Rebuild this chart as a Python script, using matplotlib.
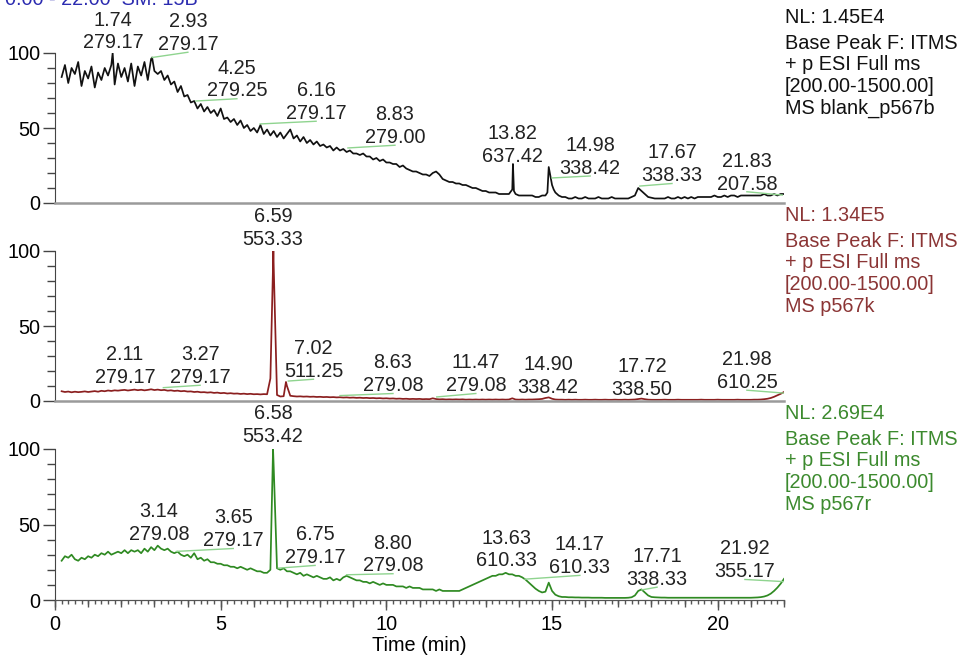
import numpy as np
import matplotlib.pyplot as plt
from matplotlib.ticker import MultipleLocator, FixedLocator, NullFormatter

plt.rcParams['font.family'] = ['Liberation Sans', 'DejaVu Sans']
FS = 14.3

# sampling times of the traces (min)
t_grid = np.round(np.arange(0.2, 22.0001, 0.1), 1)

blank_y = [
    84, 92, 80, 90, 86, 94, 78, 88, 83, 91,
    77, 87, 82, 90, 85, 92, 79, 93, 84, 90,
    81, 93, 78, 91, 85, 94, 82, 96, 88, 86,
    88, 82, 85, 79, 81, 74, 78, 71, 72, 67,
    68, 63, 66, 61, 64, 60, 62, 58, 63, 56,
    57, 54, 56, 52, 55, 50, 52, 48, 50, 47,
    52, 46, 49, 45, 48, 44, 47, 43, 46, 49,
    43, 45, 41, 44, 40, 42, 39, 41, 38, 39,
    37, 38, 35, 37, 35, 36, 34, 35, 33, 33,
    32, 33, 31, 31, 29, 30, 28, 29, 27, 27,
    26, 26, 24, 25, 23, 22, 21, 21, 20, 19,
    19, 18, 20, 21, 19, 16, 15, 14, 14, 13,
    13, 12, 12, 11, 10, 10, 9, 8, 8, 7,
    7, 7, 6, 6, 6, 6, 9, 6, 5, 5,
    5, 5, 5, 4, 4, 5, 5, 24, 12, 7,
    5, 4, 4, 3, 3, 4, 3, 3, 4, 3,
    3, 3, 4, 3, 3, 3, 4, 3, 3, 3,
    3, 3, 4, 5, 10, 8, 6, 4, 3.5, 3,
    3, 3, 3, 4, 3, 3, 4, 3, 4, 3,
    4, 3, 4, 4, 4, 4, 4, 5, 4, 4,
    5, 4, 5, 5, 4, 5, 5, 5, 5, 5,
    5, 5, 6, 5, 5, 6, 5, 6, 6,
]
blank_extra_t = [1.74, 2.93, 13.82, 13.85, 14.86, 15.05]
blank_extra_y = [100, 97, 26, 8, 7, 9]

k_y = [
    6.5, 6.0, 6.3, 5.8, 6.2, 5.9, 6.1, 6.4, 6.0, 6.3,
    6.6, 6.2, 6.8, 6.5, 7.0, 6.7, 7.1, 6.9, 7.2, 7.4,
    7.0, 7.3, 7.6, 7.2, 7.5, 7.1, 7.4, 7.8, 7.3, 7.6,
    7.2, 7.4, 6.9, 7.1, 6.7, 6.9, 6.5, 6.7, 6.3, 6.4,
    6.0, 6.2, 5.8, 5.9, 5.6, 5.8, 5.4, 5.6, 5.2, 5.4,
    5.0, 5.2, 4.9, 5.0, 4.7, 4.9, 4.6, 4.8, 4.5, 4.6,
    4.4, 4.6, 4.5, 15, 90, 4.0, 3.0, 3.2, 10, 3.5,
    3.2, 3.0, 3.1, 2.9, 3.0, 2.8, 2.9, 2.7, 2.8, 2.6,
    2.7, 2.5, 2.6, 2.4, 2.5, 2.3, 2.4, 2.2, 2.3, 2.1,
    2.2, 2.0, 2.1, 1.9, 2.0, 1.8, 1.9, 1.7, 1.8, 1.6,
    1.7, 1.5, 1.6, 1.4, 1.5, 1.3, 1.4, 1.3, 1.4, 1.2,
    1.3, 1.2, 1.8, 1.3, 1.1, 1.2, 1.0, 1.1, 1.0, 1.1,
    1.0, 1.1, 0.9, 1.0, 0.9, 1.0, 0.9, 1.0, 0.9, 1.0,
    0.9, 1.0, 0.9, 1.0, 0.9, 1.0, 1.8, 1.0, 0.9, 1.0,
    0.9, 1.0, 1.0, 1.1, 1.2, 1.4, 2.0, 2.4, 1.5, 1.0,
    0.9, 0.9, 0.8, 0.9, 0.8, 0.9, 0.8, 0.8, 0.9, 0.8,
    0.8, 0.9, 0.8, 0.8, 0.9, 0.8, 0.8, 0.9, 0.8, 0.8,
    0.9, 0.8, 0.9, 1.0, 1.3, 1.6, 1.2, 0.9, 0.8, 0.8,
    0.8, 0.8, 0.9, 0.8, 0.8, 0.8, 0.9, 0.8, 0.8, 0.8,
    0.8, 0.8, 0.8, 0.9, 0.8, 0.8, 0.8, 0.8, 0.9, 0.8,
    0.8, 0.8, 0.8, 0.8, 0.9, 0.8, 0.8, 0.8, 0.8, 0.9,
    0.9, 1.0, 1.2, 1.5, 2.0, 2.8, 3.8, 4.8, 6.0,
]
k_extra_t = [6.59, 6.97]
k_extra_y = [100, 12.7]

r_y = [
    26, 29, 28, 30, 27, 26, 28, 27, 29, 28,
    30, 29, 31, 30, 32, 30, 31, 32, 31, 33,
    31, 33, 32, 33, 31, 34, 32, 35, 33, 36,
    34, 33, 34, 32, 31, 32, 30, 29, 30, 28,
    31, 27, 28, 26, 27, 25, 25, 24, 24, 23,
    23, 22, 22, 21, 22, 21, 20, 21, 20, 19,
    19, 18, 18, 20, 88, 21, 20, 21, 19, 19,
    18, 17, 18, 16, 17, 16, 15, 16, 15, 14,
    14, 15, 13, 14, 13, 15, 16, 15, 14, 13,
    13, 12, 12, 11, 12, 11, 10, 11, 10, 10,
    10, 9, 9, 9, 8, 9, 8, 8, 8, 7,
    7, 7, 7, 6, 7, 6, 6, 6, 6, 6,
    6, 7, 8, 9, 10, 11, 12, 13, 14, 15,
    16, 16, 17, 17, 18, 17, 17, 16, 16, 15,
    13.5, 11.5, 9.5, 7.5, 6, 5, 5.5, 11.5, 6, 3.5,
    2.5, 2, 2, 1.8, 1.8, 1.7, 1.7, 1.6, 1.6, 1.6,
    1.5, 1.5, 1.5, 1.5, 1.4, 1.4, 1.4, 1.4, 1.4, 1.4,
    1.4, 1.5, 1.8, 3, 6, 7, 5, 3, 2, 1.8,
    1.7, 1.6, 1.6, 1.5, 1.5, 1.5, 1.5, 1.5, 1.5, 1.5,
    1.5, 1.5, 1.5, 1.5, 1.5, 1.5, 1.5, 1.5, 1.5, 1.5,
    1.5, 1.5, 1.5, 1.5, 1.5, 1.5, 1.5, 1.5, 1.5, 1.6,
    1.7, 1.9, 2.3, 3, 4.2, 6, 8.2, 10.8, 14,
]
r_extra_t = [6.58]
r_extra_y = [100]

# peak labels: (RT, m/z, label x, label baseline y, peak point or None)
blank_labels = [
    ("1.74", "279.17", 1.75, 103, None),
    ("2.93", "279.17", 4.01, 102, (2.93, 97)),
    ("4.25", "279.25", 5.49, 71, (4.25, 68)),
    ("6.16", "279.17", 7.88, 56, (6.19, 52.7)),
    ("8.83", "279.00", 10.26, 40, (8.84, 36.7)),
    ("13.82", "637.42", 13.79, 27.5, None),
    ("14.98", "338.42", 16.15, 19.5, (15.0, 16.7)),
    ("17.67", "338.33", 18.62, 14.5, (17.65, 11.3)),
    ("21.83", "207.58", 20.88, 9, (21.95, 5.3)),
]
k_labels = [
    ("6.59", "553.33", 6.58, 104, None),
    ("2.11", "279.17", 2.11, 12, None),
    ("3.27", "279.17", 4.38, 12, (3.27, 8.9)),
    ("7.02", "511.25", 7.80, 16, (7.04, 13.3)),
    ("8.63", "279.08", 10.20, 6.5, (8.60, 3.6)),
    ("11.47", "279.08", 12.70, 6.5, (11.52, 2.7)),
    ("14.90", "338.42", 14.88, 5.3, None),
    ("17.72", "338.50", 17.71, 4, None),
    ("21.98", "610.25", 20.88, 8.7, (21.98, 5.3)),
]
r_labels = [
    ("6.58", "553.42", 6.58, 104.7, None),
    ("3.14", "279.08", 3.14, 40, None),
    ("3.65", "279.17", 5.38, 35.6, (3.67, 32.2)),
    ("6.75", "279.17", 7.85, 24.4, (6.74, 21.1)),
    ("8.80", "279.08", 10.20, 18.9, (8.80, 16.7)),
    ("13.63", "610.33", 13.64, 22.2, None),
    ("14.17", "610.33", 15.84, 17.8, (14.18, 13.8)),
    ("17.71", "338.33", 18.17, 10, (17.71, 6.7)),
    ("21.92", "355.17", 20.82, 15.1, (21.97, 12.2)),
]

info_lines = ["Base Peak F: ITMS", "+ p ESI Full ms", "[200.00-1500.00]"]
panels = [
    ("1.45E4", "MS blank_p567b", blank_y, blank_extra_t, blank_extra_y, blank_labels, "#111111", "#111111"),
    ("1.34E5", "MS p567k", k_y, k_extra_t, k_extra_y, k_labels, "#8b1f1f", "#8b3535"),
    ("2.69E4", "MS p567r", r_y, r_extra_t, r_extra_y, r_labels, "#2f8a22", "#3c8a2e"),
]

W, H = 962, 660
fig = plt.figure(figsize=(W / 100, H / 100), dpi=100)
fig.text(-30 / W, 1 - 5 / H, "RT: 0.00 - 22.00  SM: 15B", color="#2b2bb0",
         fontsize=FS, va="baseline")

tops = [53, 251, 449]
for i, (nl, name, ys, et, ey, labels, lc, tc) in enumerate(panels):
    top = tops[i]
    bottom = top + 150 if i < 2 else top + 151
    ax = fig.add_axes([55 / W, 1 - bottom / H, 729 / W, (bottom - top) / H])
    t = np.concatenate([t_grid, et])
    y = np.concatenate([ys, ey])
    order = np.argsort(t, kind="stable")
    ax.plot(t[order], y[order], color=lc, lw=1.25)
    ax.set_xlim(0, 22)
    ax.set_ylim(0, 100)
    for s in ("top", "right"):
        ax.spines[s].set_visible(False)
    ax.spines["left"].set_color("#444444")
    ax.yaxis.set_major_locator(FixedLocator([0, 50, 100]))
    ax.yaxis.set_minor_locator(MultipleLocator(10))
    ax.tick_params(axis="y", which="major", length=9, width=1, color="#444444",
                   labelsize=FS, pad=1.5)
    ax.tick_params(axis="y", which="minor", length=5.5, width=1, color="#444444")

    if i < 2:
        ax.spines["bottom"].set_color("#9a9a9a")
        ax.spines["bottom"].set_linewidth(1.8)
        ax.tick_params(axis="x", which="both", bottom=False, labelbottom=False)
    else:
        ax.spines["bottom"].set_color("#555555")
        ax.xaxis.set_major_locator(MultipleLocator(5))
        ax.xaxis.set_minor_locator(MultipleLocator(0.2))
        ax.tick_params(axis="x", which="major", length=7.5, width=1, color="#555555",
                       labelsize=FS, pad=3)
        ax.tick_params(axis="x", which="minor", length=3, width=1, color="#555555")
        sec = ax.secondary_xaxis("bottom")
        sec.xaxis.set_major_locator(MultipleLocator(1))
        sec.xaxis.set_major_formatter(NullFormatter())
        sec.tick_params(axis="x", length=5, width=1, color="#555555")
        sec.spines["bottom"].set_color("#555555")
        ax.set_xlabel("Time (min)", fontsize=FS, labelpad=2)

    for rt, mz, lx, ly, pk in labels:
        ax.text(lx, ly, mz, ha="center", va="baseline", fontsize=FS,
                color="#222222", clip_on=False)
        ax.annotate(rt, xy=(lx, ly), xytext=(0, 16.5), textcoords="offset points",
                    ha="center", va="baseline", fontsize=FS, color="#222222",
                    annotation_clip=False)
        if pk is not None:
            ax.plot([pk[0], lx], [pk[1], ly - 1.5], color="#8fd48f", lw=1.0,
                    clip_on=False)

    # instrument info on the right
    fig.text(785 / W, 1 - (top - 30) / H, "NL: " + nl, color=tc, fontsize=FS,
             va="baseline")
    for j, line in enumerate(info_lines + [name]):
        fig.text(785 / W, 1 - (top - 4 + 21.5 * j) / H, line, color=tc,
                 fontsize=FS, va="baseline")

fig.savefig("out.png", dpi=100)
